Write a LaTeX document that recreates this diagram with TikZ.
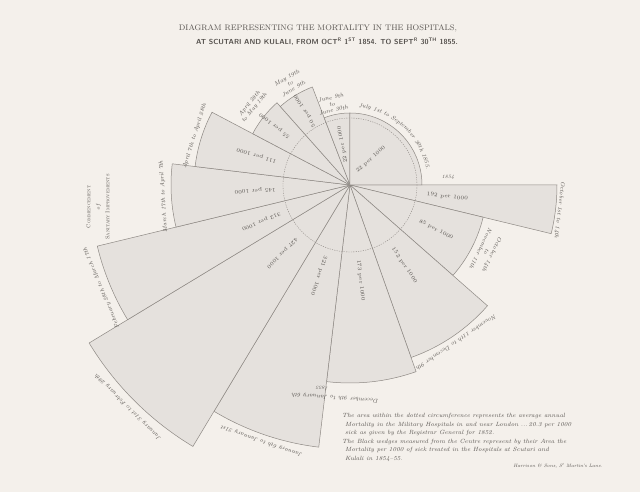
\documentclass[tikz,border=0pt]{standalone}
\usetikzlibrary{decorations.text}

\definecolor{paper}{HTML}{F4F0EB}
\definecolor{tint}{HTML}{E5E1DD}
\definecolor{ink}{HTML}{8E8984}
\definecolor{type}{HTML}{56524E}

\begin{document}
\begin{tikzpicture}[x=1pt, y=-1pt,
  wedge/.style={fill=tint, draw=ink, line width=0.5pt},
  rate/.style={font=\fontsize{5.4}{6}\selectfont, text=type, inner sep=0pt},
  period/.style={font=\fontsize{5.8}{6.4}\selectfont\itshape, text=type, align=center, inner sep=0pt}]

  \path[use as bounding box, fill=paper] (-350,-185) rectangle (290,307);

  % title
  \node[text=type, font=\fontsize{8}{9}\selectfont] (title) at (-32,-157)
    {DIAGRAM REPRESENTING THE MORTALITY IN THE HOSPITALS,};
  \node[text=type, font=\fontsize{7.3}{8}\selectfont\sffamily\bfseries] (subtitle) at (-23,-143)
    {AT SCUTARI AND KULALI, FROM OCT\textsuperscript{R} 1\textsuperscript{ST} 1854. TO SEPT\textsuperscript{R} 30\textsuperscript{TH} 1855.};

  % wedges, clockwise from October 1854
  \foreach \a/\b/\r in {0/13.6/207, 13.6/41.3/137, 41.3/70.5/183, 70.5/96.8/198,
      96.8/121/264, 121/148.8/305, 148.8/166.4/260, 166.4/186.8/179,
      186.8/207.8/156, 207.8/228.4/110, 228.4/249/105, 249/270/72, 270/360/72}
    \filldraw[wedge] (0,0) -- (\a:\r) arc[start angle=\a, end angle=\b, radius=\r] -- cycle;

  % London average
  \draw[ink, line width=0.4pt, dash pattern=on 1.2pt off 1.2pt] (0,0) circle[radius=67];

  % rates per 1000
  \foreach \a/\d/\t [count=\i] in {6.8/98/192, 27.5/97/85, 55.9/97/152, 83.6/96/173,
      108.9/96/321, 134.9/96/427, 157.6/96/312, 176.6/95/145, 197.3/98/111,
      218.1/96/55, 238.7/87/50, 259.5/41/22}
    \node[rate, rotate=-\a] (rate\i) at (\a:\d) {\t\ per 1000};
  \node[rate, rotate=42] (rate13) at (309:33) {22 per 1000};

  % periods, along the rims
  \foreach \a/\d/\t [count=\i] in {6.8/211/October 1st to 14th,
      56/190/November 11th to December 9th,
      94/213/December 9th to January 6th,
      109/271/January 6th to January 31st,
      135/314/January 31st to February 28th,
      157.5/269/February 28th to March 17th,
      176.5/187/March 17th to April 7th,
      197.5/163/April 7th to April 28th}
    \node[period, rotate=-\a-90] (period\i) at (\a:\d) {\t};
  \node[period, rotate=-116] (nov) at (26:152) {October 14th\\to\\November 11th};
  \node[period, font=\fontsize{5}{6}\selectfont\itshape, rotate=172] (y1855) at (97.8:205) {1855};
  \node[period, rotate=51] (apr) at (219:126) {April 28th\\to May 19th};
  \node[period, rotate=30.5] (may) at (239.5:118) {May 19th\\to\\June 9th};
  \node[period, rotate=12.5] (jun) at (257.5:83) {June 9th\\to\\June 30th};
  \path[decorate, decoration={text along path, text align=center, text color=type,
      text={|\fontsize{5.8}{7}\selectfont\itshape|July 1st to September 30th 1855.}}]
    (270:78) arc[start angle=270, end angle=355, radius=78];
  \node[period, font=\fontsize{5}{6}\selectfont\itshape] (y1854) at (98,-8) {1854};

  % sanitary commission
  \node[text=type, font=\fontsize{5.5}{9.5}\selectfont, align=center, rotate=90] (sanitary) at (-252,22)
    {\textsc{Commencement}\\\textit{of}\\\textsc{Sanitary Improvements}};

  % note
  \node[anchor=north west, text=type, font=\fontsize{6.05}{8.6}\selectfont\itshape, align=left, inner sep=0pt] (note) at (-8,228)
    {The area within the dotted circumference represents the average annual\\
     \hspace*{3pt}Mortality in the Military Hospitals in and near London ...\,20.3 per 1000\\
     \hspace*{3pt}sick as given by the Registrar General for 1852.\\
     The Black wedges measured from the Centre represent by their Area the\\
     \hspace*{3pt}Mortality per 1000 of sick treated in the Hospitals at Scutari and\\
     \hspace*{3pt}Kulali in 1854--55.};
  \node[text=type, font=\fontsize{4.8}{5}\selectfont\itshape] (printer) at (208,281)
    {Harrison \& Sons, S\textsuperscript{t} Martin's Lane.};
\end{tikzpicture}
\end{document}
